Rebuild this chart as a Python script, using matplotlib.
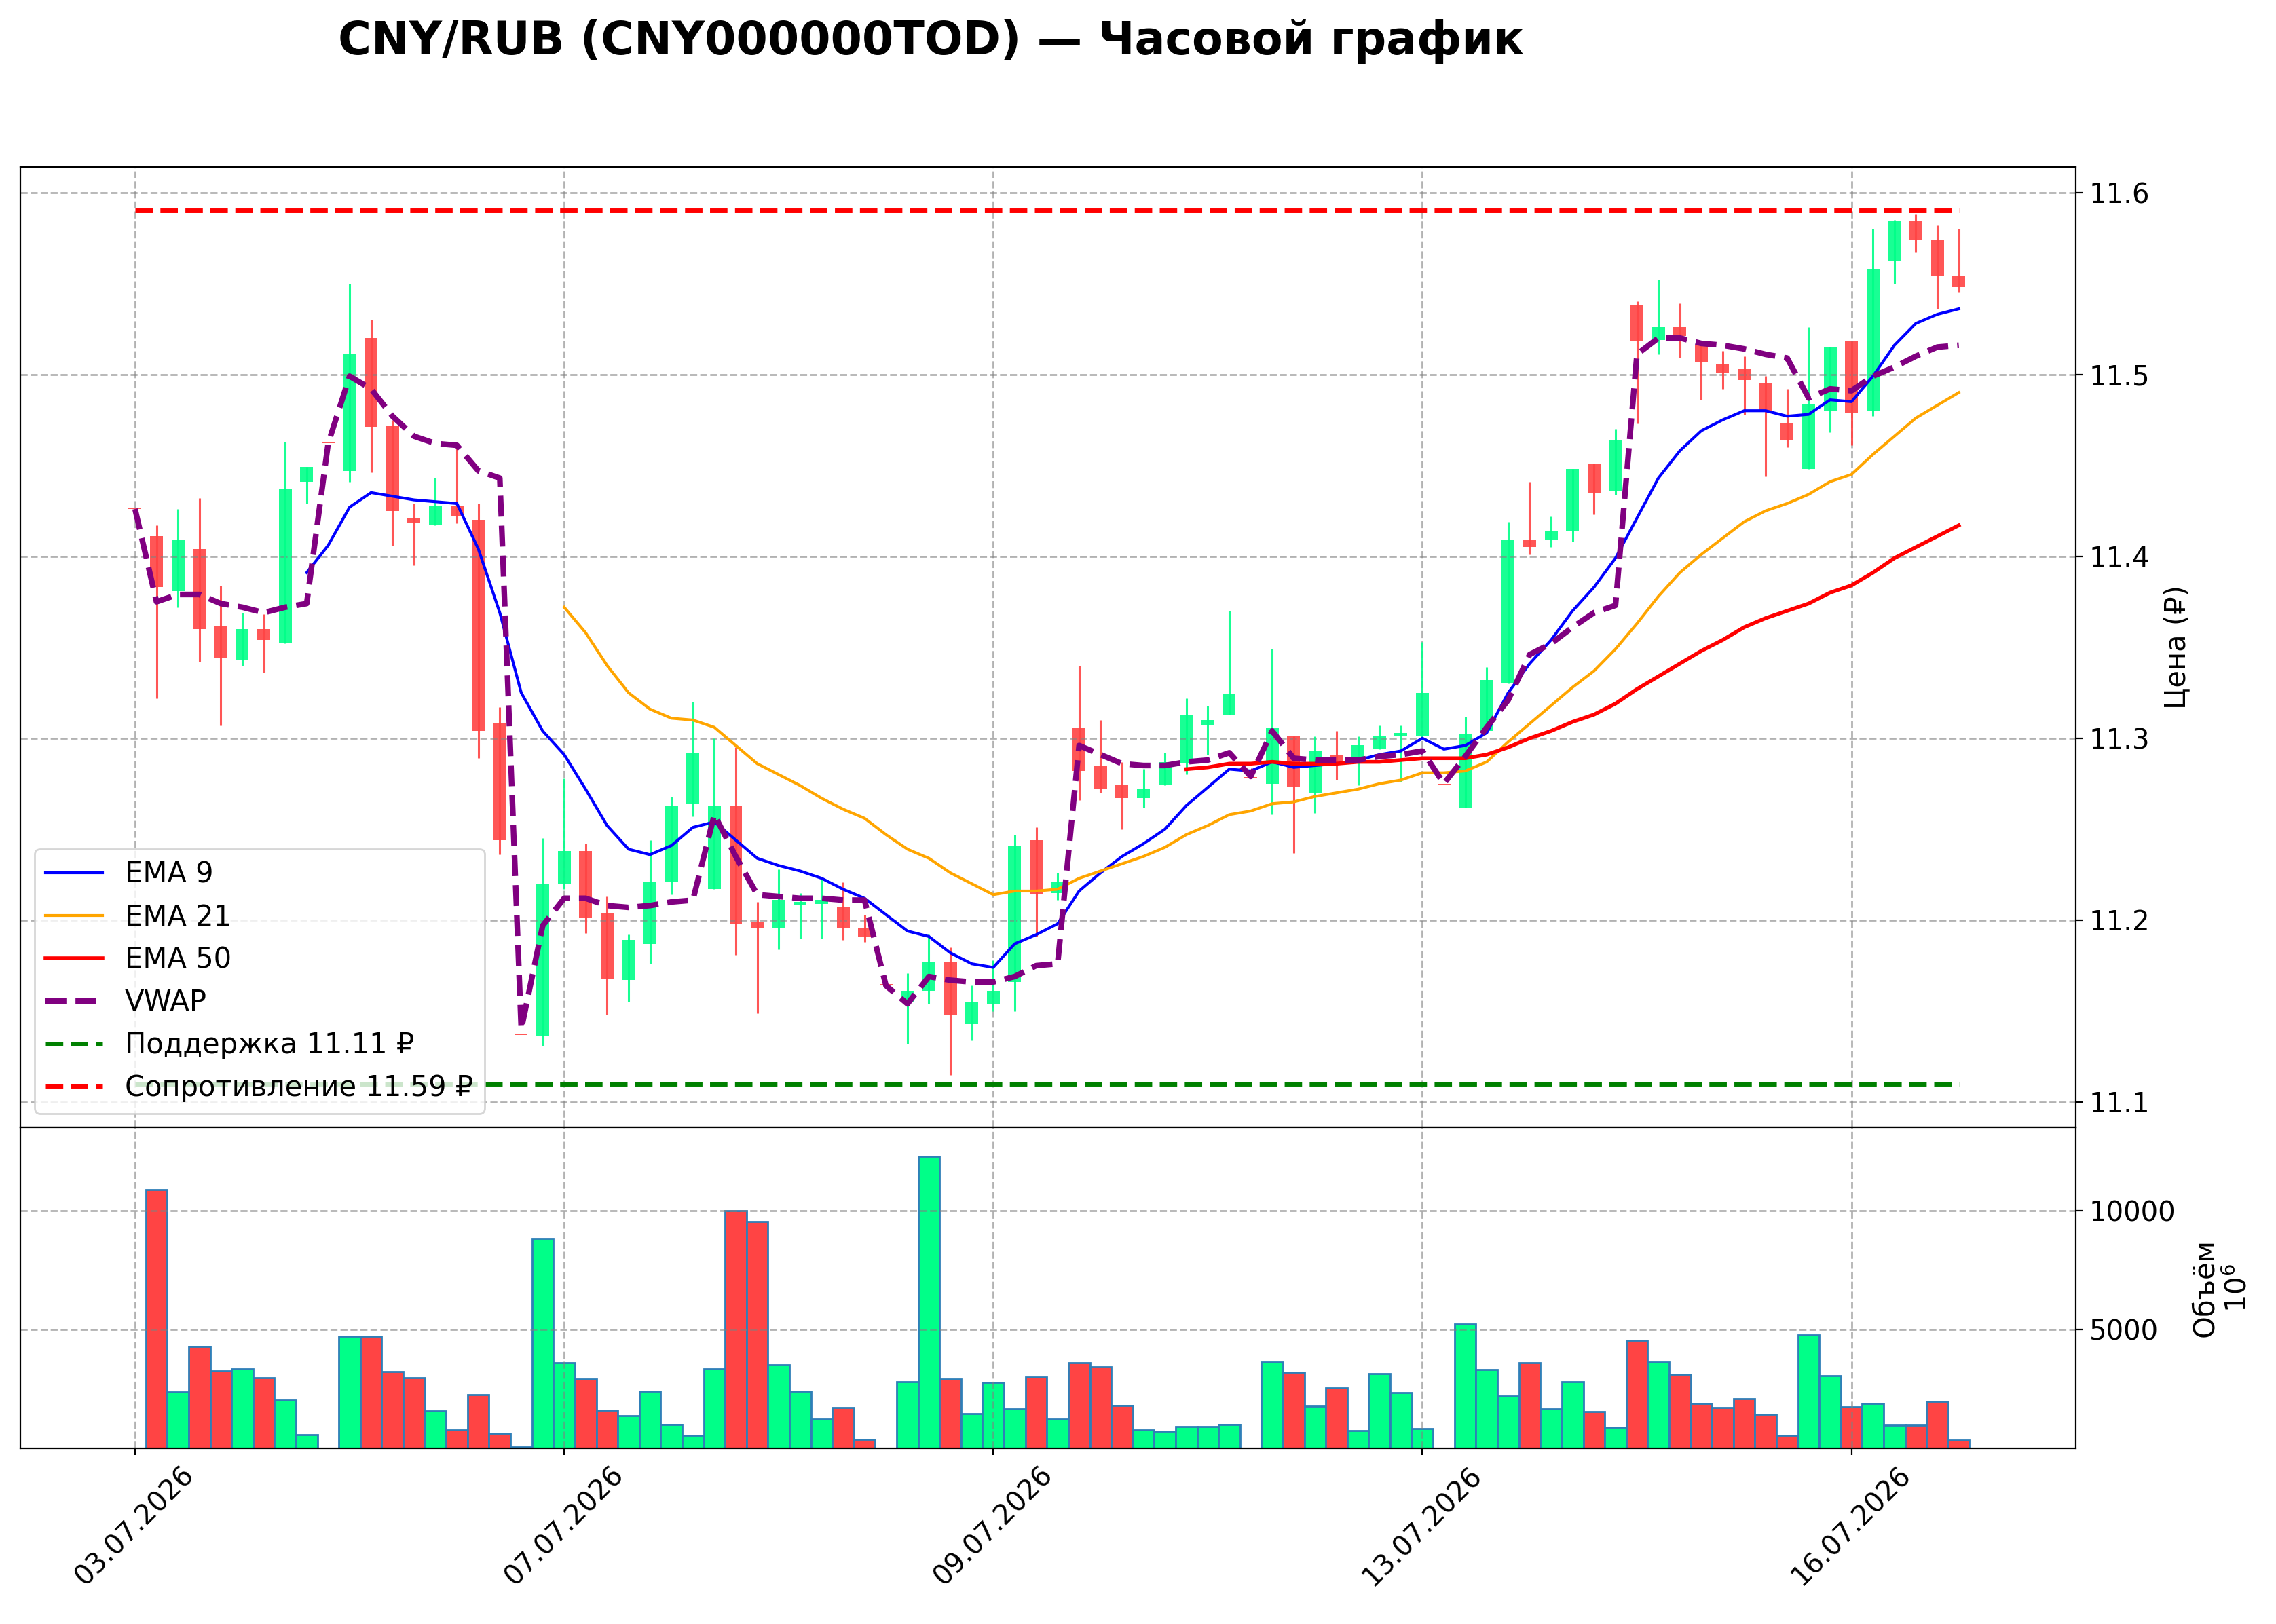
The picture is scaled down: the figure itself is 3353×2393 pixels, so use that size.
import numpy as np
import matplotlib.pyplot as plt

nan = np.nan

# hourly candles, index 0..85
date_pos = [0, 20, 40, 60, 80]
date_labels = ['03.07.2026', '07.07.2026', '09.07.2026', '13.07.2026', '16.07.2026']

opens = [11.426, 11.411, 11.381, 11.404, 11.362, 11.343, 11.360, 11.352, 11.441, 11.462,
         11.447, 11.520, 11.472, 11.421, 11.417, 11.428, 11.420, 11.308, 11.137, 11.136,
         11.220, 11.238, 11.204, 11.167, 11.187, 11.221, 11.264, 11.217, 11.263, 11.199,
         11.196, 11.208, 11.209, 11.207, 11.196, 11.164, 11.155, 11.161, 11.177, 11.143,
         11.154, 11.166, 11.244, 11.215, 11.306, 11.285, 11.274, 11.267, 11.274, 11.286,
         11.307, 11.313, 11.278, 11.275, 11.301, 11.270, 11.291, 11.286, 11.294, 11.301,
         11.301, 11.274, 11.262, 11.304, 11.330, 11.409, 11.409, 11.414, 11.451, 11.436,
         11.538, 11.519, 11.526, 11.516, 11.506, 11.503, 11.495, 11.473, 11.448, 11.480,
         11.518, 11.480, 11.562, 11.584, 11.574, 11.554]
highs = [11.426, 11.417, 11.426, 11.432, 11.384, 11.369, 11.368, 11.463, 11.449, 11.462,
         11.550, 11.530, 11.475, 11.429, 11.443, 11.461, 11.429, 11.317, 11.137, 11.245,
         11.278, 11.242, 11.213, 11.192, 11.244, 11.268, 11.320, 11.300, 11.295, 11.210,
         11.228, 11.215, 11.223, 11.221, 11.203, 11.164, 11.171, 11.192, 11.185, 11.164,
         11.178, 11.247, 11.251, 11.226, 11.340, 11.310, 11.287, 11.283, 11.292, 11.322,
         11.318, 11.370, 11.278, 11.349, 11.301, 11.301, 11.304, 11.301, 11.307, 11.307,
         11.353, 11.274, 11.312, 11.339, 11.419, 11.441, 11.422, 11.448, 11.451, 11.470,
         11.540, 11.552, 11.539, 11.518, 11.513, 11.510, 11.499, 11.492, 11.526, 11.515,
         11.518, 11.580, 11.585, 11.588, 11.582, 11.580]
lows = [11.426, 11.322, 11.372, 11.342, 11.307, 11.340, 11.336, 11.352, 11.429, 11.462,
        11.441, 11.446, 11.406, 11.395, 11.417, 11.418, 11.289, 11.236, 11.137, 11.131,
        11.217, 11.193, 11.148, 11.155, 11.176, 11.214, 11.257, 11.217, 11.181, 11.149,
        11.184, 11.190, 11.190, 11.189, 11.188, 11.164, 11.132, 11.154, 11.115, 11.134,
        11.150, 11.150, 11.191, 11.211, 11.266, 11.270, 11.250, 11.262, 11.274, 11.280,
        11.291, 11.313, 11.278, 11.258, 11.237, 11.259, 11.277, 11.274, 11.294, 11.276,
        11.300, 11.274, 11.262, 11.304, 11.330, 11.401, 11.405, 11.408, 11.423, 11.434,
        11.473, 11.511, 11.509, 11.486, 11.492, 11.478, 11.444, 11.460, 11.448, 11.468,
        11.461, 11.477, 11.550, 11.567, 11.536, 11.545]
closes = [11.426, 11.383, 11.409, 11.360, 11.344, 11.360, 11.354, 11.437, 11.449, 11.462,
          11.511, 11.471, 11.425, 11.418, 11.428, 11.422, 11.304, 11.244, 11.137, 11.220,
          11.238, 11.201, 11.168, 11.189, 11.221, 11.263, 11.292, 11.263, 11.198, 11.196,
          11.211, 11.210, 11.211, 11.196, 11.191, 11.164, 11.161, 11.177, 11.148, 11.155,
          11.161, 11.241, 11.214, 11.221, 11.282, 11.272, 11.267, 11.272, 11.287, 11.313,
          11.310, 11.324, 11.278, 11.306, 11.273, 11.293, 11.286, 11.296, 11.301, 11.303,
          11.325, 11.274, 11.302, 11.332, 11.409, 11.405, 11.414, 11.448, 11.435, 11.464,
          11.518, 11.526, 11.521, 11.507, 11.501, 11.497, 11.480, 11.464, 11.484, 11.515,
          11.479, 11.558, 11.584, 11.574, 11.554, 11.548]

# volume, millions
volume = [0, 10880, 2366, 4294, 3244, 3340, 2977, 2032, 563, 0,
          4714, 4714, 3225, 2977, 1574, 763, 2252, 620, 50, 8826,
          3597, 2920, 1594, 1384, 2395, 992, 553, 3340, 10010, 9552,
          3512, 2405, 1221, 1708, 382, 0, 2815, 12271, 2910, 1450,
          2786, 1651, 2987, 1221, 3607, 3435, 1794, 782, 716, 916,
          916, 1002, 0, 3636, 3187, 1775, 2548, 744, 3149, 2347,
          821, 0, 5229, 3311, 2204, 3607, 1660, 2805, 1546, 878,
          4552, 3626, 3111, 1880, 1718, 2090, 1422, 534, 4781, 3053,
          1737, 1880, 973, 973, 1975, 334]

ema9 = [nan] * 8 + [
    11.391, 11.406, 11.427, 11.435, 11.433, 11.431, 11.430, 11.429, 11.404, 11.369,
    11.325, 11.304, 11.291, 11.272, 11.252, 11.239, 11.236, 11.241, 11.251, 11.254,
    11.244, 11.234, 11.230, 11.227, 11.223, 11.217, 11.212, 11.203, 11.194, 11.191,
    11.182, 11.176, 11.174, 11.187, 11.192, 11.198, 11.216, 11.226, 11.235, 11.242,
    11.250, 11.263, 11.273, 11.283, 11.282, 11.287, 11.284, 11.285, 11.286, 11.288,
    11.291, 11.293, 11.300, 11.294, 11.296, 11.303, 11.325, 11.341, 11.354, 11.370,
    11.383, 11.399, 11.421, 11.443, 11.458, 11.469, 11.475, 11.480, 11.480, 11.477,
    11.478, 11.486, 11.485, 11.499, 11.516, 11.528, 11.533, 11.536]
ema21 = [nan] * 20 + [
    11.372, 11.358, 11.340, 11.325, 11.316, 11.311, 11.310, 11.306, 11.296, 11.286,
    11.280, 11.274, 11.267, 11.261, 11.256, 11.247, 11.239, 11.234, 11.226, 11.220,
    11.214, 11.216, 11.216, 11.217, 11.223, 11.227, 11.231, 11.235, 11.240, 11.247,
    11.252, 11.258, 11.260, 11.264, 11.265, 11.268, 11.270, 11.272, 11.275, 11.277,
    11.281, 11.281, 11.282, 11.287, 11.298, 11.308, 11.318, 11.328, 11.337, 11.349,
    11.363, 11.378, 11.391, 11.401, 11.410, 11.419, 11.425, 11.429, 11.434, 11.441,
    11.445, 11.456, 11.466, 11.476, 11.483, 11.490]
ema50 = [nan] * 49 + [
    11.283, 11.284, 11.286, 11.286, 11.287, 11.286, 11.286, 11.286, 11.287, 11.287,
    11.288, 11.289, 11.289, 11.289, 11.291, 11.295, 11.300, 11.304, 11.309, 11.313,
    11.319, 11.327, 11.334, 11.341, 11.348, 11.354, 11.361, 11.366, 11.370, 11.374,
    11.380, 11.384, 11.391, 11.399, 11.405, 11.411, 11.417]
vwap = [11.426, 11.375, 11.379, 11.379, 11.374, 11.372, 11.369, 11.372, 11.374, 11.462,
        11.499, 11.492, 11.477, 11.466, 11.462, 11.461, 11.447, 11.443, 11.140, 11.197,
        11.212, 11.212, 11.208, 11.207, 11.208, 11.210, 11.211, 11.258, 11.235, 11.214,
        11.213, 11.212, 11.212, 11.211, 11.211, 11.164, 11.154, 11.169, 11.167, 11.166,
        11.166, 11.169, 11.175, 11.176, 11.296, 11.291, 11.286, 11.285, 11.285, 11.287,
        11.288, 11.292, 11.279, 11.304, 11.289, 11.288, 11.288, 11.288, 11.290, 11.291,
        11.293, 11.275, 11.290, 11.306, 11.321, 11.346, 11.352, 11.361, 11.369, 11.373,
        11.511, 11.520, 11.520, 11.517, 11.516, 11.514, 11.511, 11.509, 11.487, 11.492,
        11.491, 11.499, 11.504, 11.510, 11.515, 11.516]

support = 11.11
resistance = 11.59

UP = '#00ff88'
DOWN = '#ff4444'

o = np.array(opens)
c = np.array(closes)
h = np.array(highs)
l = np.array(lows)
x = np.arange(len(o))
cols = [UP if cc > oo else DOWN for oo, cc in zip(o, c)]

fig = plt.figure(figsize=(3353 / 200, 2393 / 200), dpi=200)
ax1 = fig.add_axes([0.0089, 0.3057, 0.9031, 0.5915])
ax2 = fig.add_axes([0.0089, 0.1082, 0.9031, 0.1975], sharex=ax1)

# candles
ax1.vlines(x, l, h, colors=cols, linewidth=1.1, alpha=0.9)
body = np.maximum(np.abs(c - o), 0.0008)
ax1.bar(x, body, bottom=np.minimum(o, c), width=0.6, color=cols, alpha=0.9)

ax1.plot(x, ema9, color='blue', lw=1.5, label='EMA 9')
ax1.plot(x, ema21, color='orange', lw=1.5, label='EMA 21')
ax1.plot(x, ema50, color='red', lw=2, label='EMA 50')
ax1.plot(x, vwap, color='purple', lw=3, ls='--', label='VWAP')
ax1.plot([x[0], x[-1]], [support, support], color='green', ls='--', lw=2.5,
         label=f'Поддержка {support:.2f} ₽')
ax1.plot([x[0], x[-1]], [resistance, resistance], color='red', ls='--', lw=2.5,
         label=f'Сопротивление {resistance:.2f} ₽')

ax1.yaxis.tick_right()
ax1.yaxis.set_label_position('right')
ax1.set_ylabel('Цена (₽)', fontsize=15, labelpad=7)
ax1.tick_params(labelbottom=False, labelsize=14.5)
ax1.grid(True, ls='--', color='gray', alpha=0.6, lw=1)
ax1.legend(loc='lower left', fontsize=15)

# volume
ax2.bar(x, volume, width=1.0, color=cols, edgecolor='#2f7fb8', linewidth=1)
ax2.set_ylim(0, max(volume) * 1.1)
ax2.yaxis.tick_right()
ax2.yaxis.set_label_position('right')
ax2.set_ylabel('Объём\n$10^6$', fontsize=15, labelpad=8)
ax2.set_yticks([5000, 10000])
ax2.tick_params(labelsize=14.5)
ax2.grid(True, ls='--', color='gray', alpha=0.6, lw=1)
ax2.set_xticks(date_pos)
ax2.set_xticklabels(date_labels, rotation=45)
ax2.set_xlim(-5.35, 90.45)

fig.text(0.409, 0.9745, 'CNY/RUB (CNY000000TOD) — Часовой график',
         fontsize=24, fontweight='bold', ha='center', va='center')

fig.savefig('out.png', dpi=200)
